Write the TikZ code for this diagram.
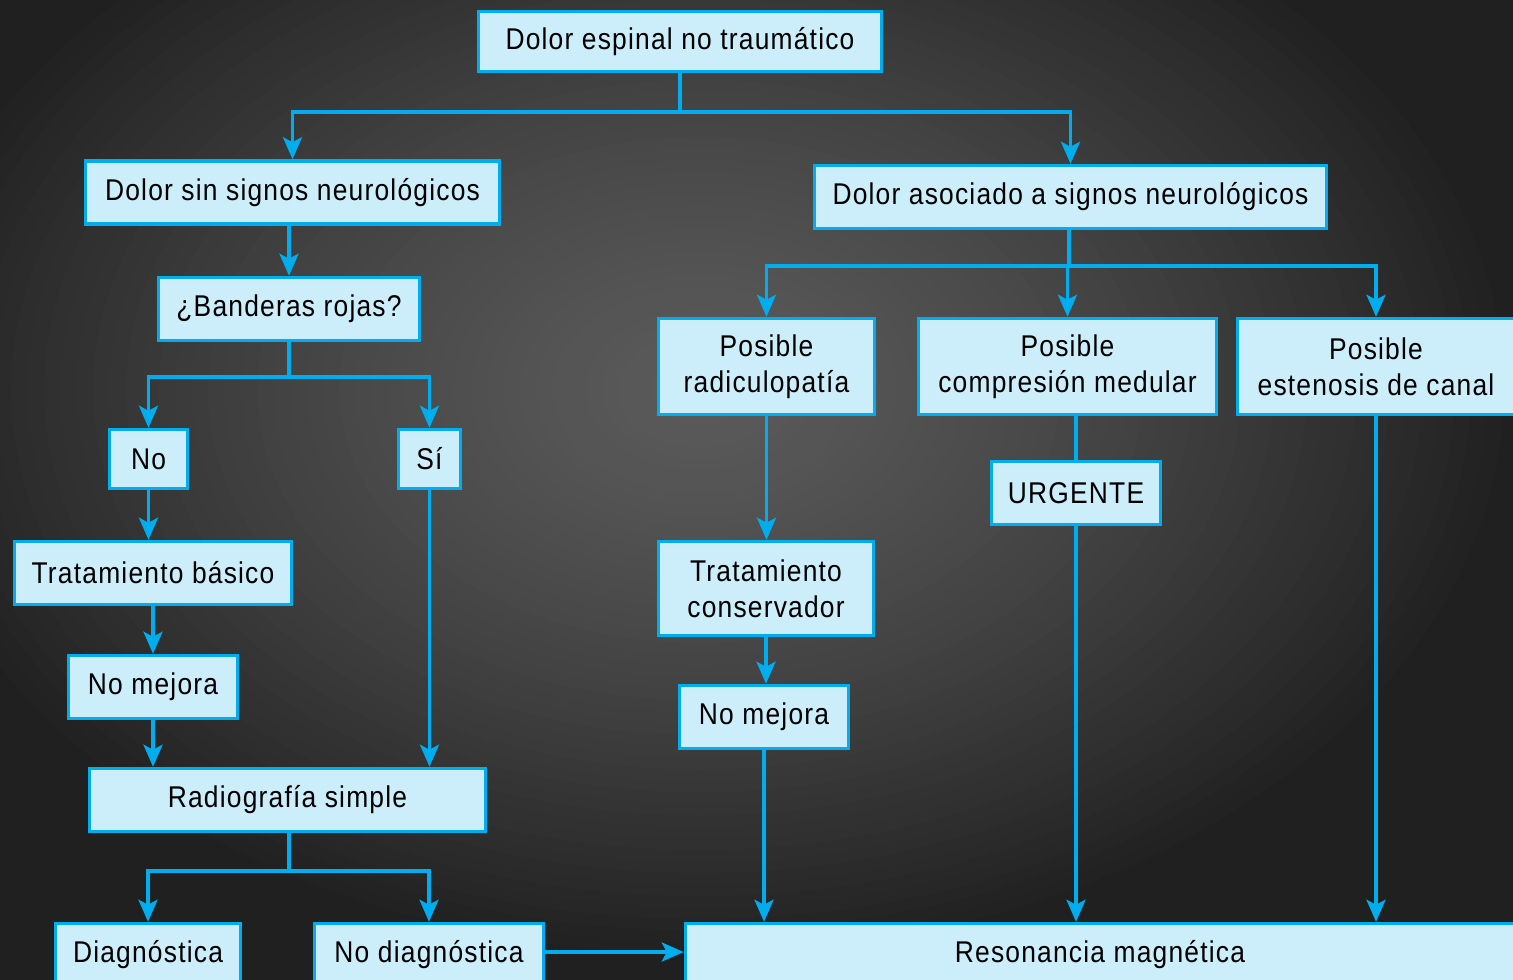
\documentclass[tikz,border=0pt]{standalone}
\usepackage{fontspec}
\setmainfont[FakeStretch=0.88,LetterSpace=4]{Liberation Sans}
\usetikzlibrary{arrows.meta}
\definecolor{edge}{HTML}{00AEEF}
\definecolor{boxfill}{HTML}{CCEEFA}
\definecolor{bgin}{HTML}{5A5A5A}
\definecolor{bgout}{HTML}{202020}
\begin{document}
\begin{tikzpicture}[x=1pt,y=-1pt,
  box/.style={draw=edge, fill=boxfill, line width=3.5pt, inner sep=0pt, align=center,
    font=\fontsize{30}{36}\selectfont, text=black},
  link/.style={draw=edge, line width=3.5pt},
  arr/.style={link, -{Stealth[length=22pt,width=19pt,inset=5pt]}}]
\useasboundingbox (0,0) rectangle (1513,980);
% dark backdrop with a soft central glow, built from stacked ellipses
\begin{scope}
  \clip (0,0) rectangle (1513,980);
  \fill[bgout] (0,0) rectangle (1513,980);
  \foreach \k in {50,49,...,1} {
    \pgfmathsetmacro\pct{100*(1-(\k/50)^1.4)}
    \fill[bgin!\pct!bgout] (700,390) ellipse ({16.4*\k} and {11.5*\k});
  }
\end{scope}

% boxes
\node[box, minimum width=403, minimum height=60] (top) at (680,41.5) {Dolor espinal no traumático};
\node[box, minimum width=414, minimum height=63] (sin) at (292.5,192.5) {Dolor sin signos neurológicos};
\node[box, minimum width=512, minimum height=63] (asoc) at (1070.5,197) {Dolor asociado a signos neurológicos};
\node[box, minimum width=261, minimum height=63] (band) at (289,309) {¿Banderas rojas?};
\node[box, minimum width=78, minimum height=59] (no) at (148.5,459) {No};
\node[box, minimum width=62, minimum height=59] (si) at (429.5,459) {Sí};
\node[box, minimum width=277, minimum height=63] (tb) at (153,573) {Tratamiento básico};
\node[box, minimum width=169, minimum height=63] (nm1) at (153,687) {No mejora};
\node[box, minimum width=396, minimum height=63] (rad) at (287.5,800) {Radiografía simple};
\node[box, minimum width=185, minimum height=63] (diag) at (148,955) {Diagnóstica};
\node[box, minimum width=229, minimum height=63] (nodiag) at (429,955) {No diagnóstica};
\node[box, minimum width=829, minimum height=63] (res) at (1100,955) {Resonancia magnética};
\node[box, minimum width=216, minimum height=96] (radic) at (766.5,366.5) {Posible\\radiculopatía};
\node[box, minimum width=298, minimum height=96] (comp) at (1067.5,366.5) {Posible\\compresión medular};
\node[box, minimum width=277, minimum height=96] (est) at (1376,366.5) {Posible\\estenosis de canal};
\node[box, minimum width=169, minimum height=63] (urg) at (1076,493) {URGENTE};
\node[box, minimum width=215, minimum height=94] (tc) at (766,588.5) {Tratamiento\\conservador};
\node[box, minimum width=169, minimum height=63] (nm2) at (764,717) {No mejora};

% junction points
\coordinate (j1) at (680,112);
\coordinate (j2) at (289,377);
\coordinate (j3) at (289,871);
\coordinate (j4) at (1069,266);

% connectors
\draw[link] (top.south) -- (j1);
\draw[arr] (j1) -| (sin.north);
\draw[arr] (j1) -| (asoc.north);
\draw[arr] (sin.south -| band.north) -- (band.north);
\draw[link] (j2 |- band.south) -- (j2);
\draw[arr] (j2) -| (no.north);
\draw[arr] (j2) -| (si.north);
\draw[arr] (no.south) -- (no.south |- tb.north);
\draw[arr] (tb.south) -- (tb.south |- nm1.north);
\draw[arr] (nm1.south) -- (nm1.south |- rad.north);
\draw[arr] (si.south) -- (si.south |- rad.north);
\draw[link] (j3 |- rad.south) -- (j3);
\draw[arr] (j3) -| (diag.north);
\draw[arr] (j3) -| (nodiag.north);
\draw[arr] ([yshift=3pt]nodiag.east) -- ([yshift=3pt]res.west |- nodiag.east);
\draw[link] (j4 |- asoc.south) -- (j4);
\draw[arr] (j4) -| (radic.north);
\draw[arr] (j4) -| (comp.north);
\draw[arr] (j4) -| (est.north);
\draw[arr] (radic.south) -- (radic.south |- tc.north);
\draw[arr] (tc.south) -- (tc.south |- nm2.north);
\draw[arr] (nm2.south) -- (nm2.south |- res.north);
\draw[link] (urg.north |- comp.south) -- (urg.north);
\draw[arr] (urg.south) -- (urg.south |- res.north);
\draw[arr] (est.south) -- (est.south |- res.north);
\end{tikzpicture}
\end{document}
